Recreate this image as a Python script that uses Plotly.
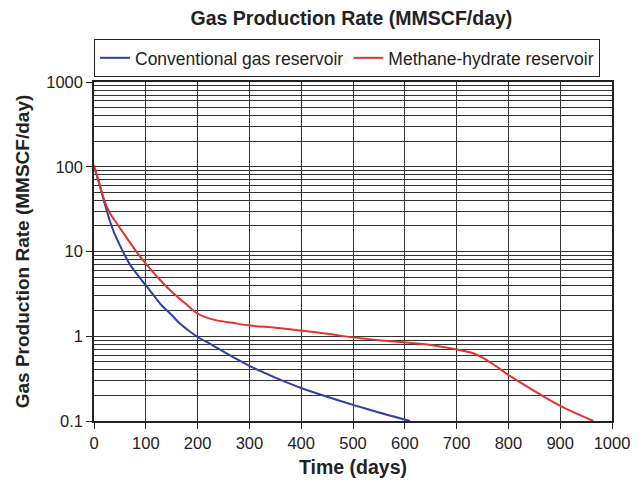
import plotly.graph_objects as go

# Conventional gas reservoir
t_conv = [0, 10, 20, 30, 40, 50, 60, 70, 80, 90, 100, 115, 130, 150, 165, 180, 200, 225, 250, 275, 301, 350, 400, 450, 500, 550, 610]
q_conv = [100, 64, 38, 23.5, 16, 11.8, 8.9, 6.9, 5.7, 4.75, 4.0, 3.05, 2.34, 1.78, 1.42, 1.2, 0.98, 0.81, 0.66, 0.54, 0.443, 0.325, 0.245, 0.193, 0.155, 0.126, 0.1]

# Methane-hydrate reservoir
t_hyd = [0, 10, 20, 31, 45, 57, 75, 89, 100, 125, 150, 175, 198, 215, 237, 270, 301, 350, 398, 450, 500, 550, 597, 650, 700, 732, 750, 770, 803, 861, 900, 964]
q_hyd = [105, 64, 40, 28.2, 21, 16.4, 11.4, 8.7, 7.2, 4.8, 3.35, 2.48, 1.88, 1.68, 1.54, 1.43, 1.34, 1.26, 1.17, 1.07, 0.97, 0.9, 0.85, 0.79, 0.70, 0.63, 0.56, 0.47, 0.34, 0.206, 0.151, 0.1]

x_ticks = [0, 100, 200, 300, 400, 500, 600, 700, 800, 900, 1000]
y_ticks = [0.1, 1, 10, 100, 1000]
y_tick_text = ["0.1", "1", "10", "100", "1000"]
y_minor = [m * d for d in [0.1, 1, 10, 100] for m in range(2, 10)]

fig = go.Figure()
fig.add_trace(go.Scatter(x=t_conv, y=q_conv, mode="lines", name="Conventional gas reservoir",
                         line=dict(color="#2d40a8", width=2, shape="spline", smoothing=0.8)))
fig.add_trace(go.Scatter(x=t_hyd, y=q_hyd, mode="lines", name="Methane-hydrate reservoir",
                         line=dict(color="#e5332a", width=2, shape="spline", smoothing=0.8)))

font = "Liberation Sans, Arial, Helvetica, sans-serif"
fig.update_layout(
    width=644, height=482,
    margin=dict(l=94, r=32, t=82, b=61),
    paper_bgcolor="white", plot_bgcolor="white",
    font=dict(family=font, size=16.5, color="#222"),
    title=dict(text="<b>Gas Production Rate (MMSCF/day)</b>", x=0.497, xanchor="center",
               y=0.963, yanchor="middle", xref="paper", yref="container",
               font=dict(size=19.5, color="#222")),
    showlegend=True,
    legend=dict(orientation="h", x=0, y=1.127, xanchor="left", yanchor="top",
                bordercolor="#222", borderwidth=1, bgcolor="white",
                font=dict(size=17.5, color="#222"), traceorder="normal"),
    xaxis=dict(range=[0, 1000], tickvals=x_ticks, ticks="outside", ticklen=6,
               tickcolor="#222", showgrid=True, gridcolor="#333", gridwidth=1,
               showline=True, linecolor="#222", linewidth=1.5, mirror=True, zeroline=False,
               automargin=False,
               title=dict(text="<b>Time (days)</b>", font=dict(size=19.5), standoff=10),
               tickfont=dict(size=16.5)),
    yaxis=dict(type="log", range=[-1, 3], tickvals=y_ticks, ticktext=y_tick_text,
               ticks="outside", ticklen=6, tickcolor="#222",
               showgrid=True, gridcolor="#333", gridwidth=1,
               minor=dict(tickmode="array", tickvals=y_minor, showgrid=True,
                          gridcolor="#333", gridwidth=1, ticks=""),
               showline=True, linecolor="#222", linewidth=1.5, mirror=True, zeroline=False,
               automargin=False,
               title=dict(text="<b>Gas Production Rate (MMSCF/day)</b>", font=dict(size=19), standoff=12),
               tickfont=dict(size=16.5)),
)

fig.write_html("out.html")
